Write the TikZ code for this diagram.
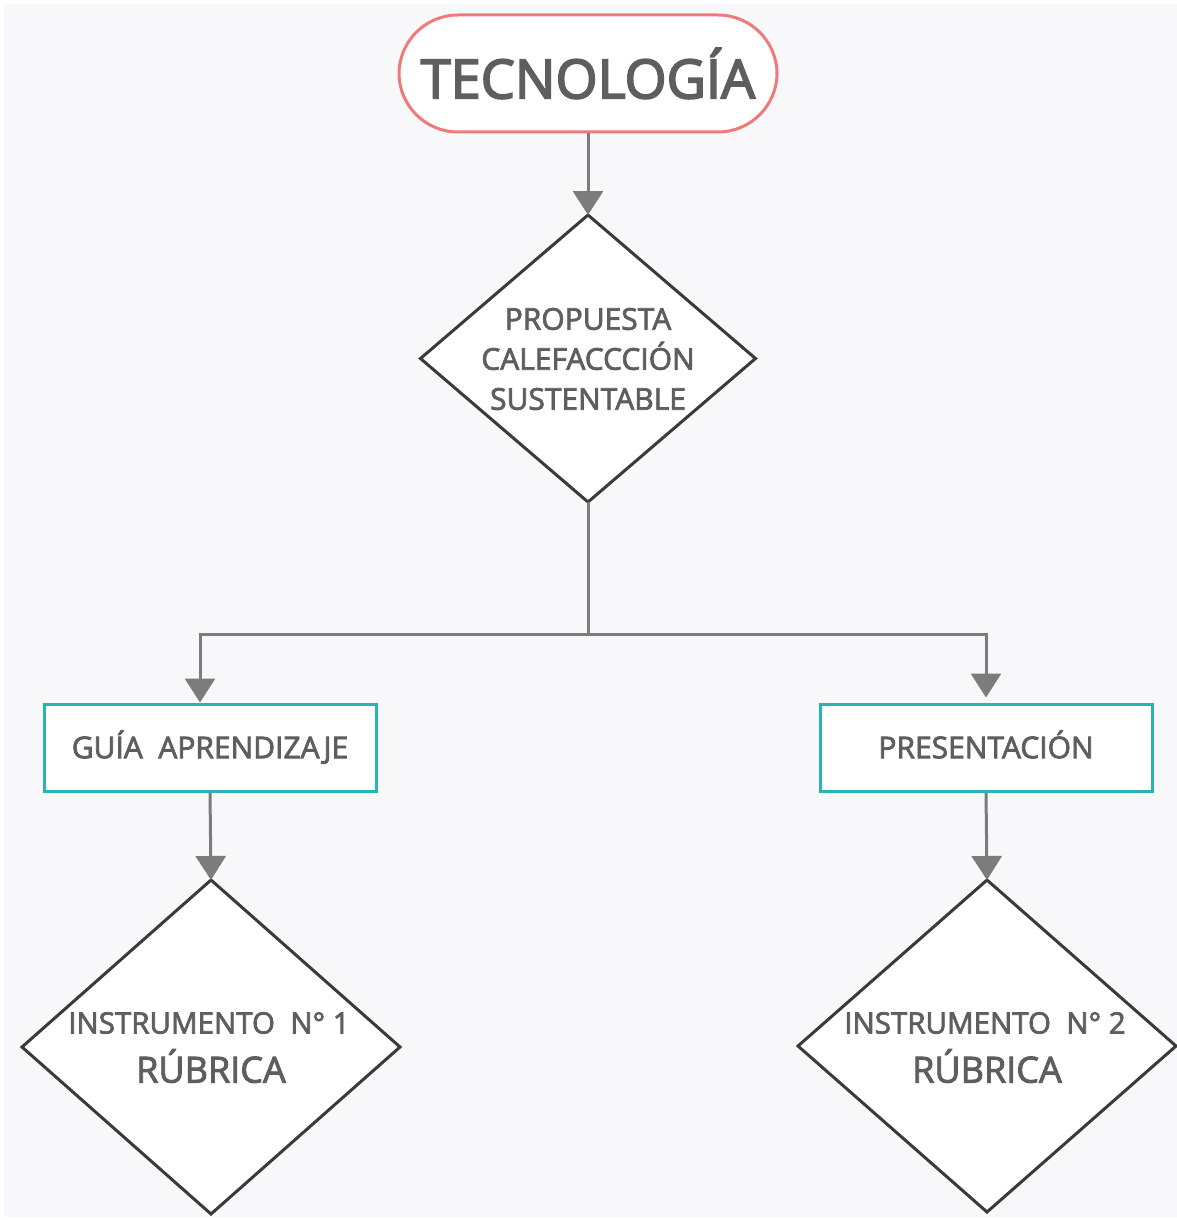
\documentclass[tikz,border=0pt]{standalone}
\usepackage{fontspec}
\setmainfont{Open Sans}
\newfontfamily\titlefont{Open Sans}[FakeBold=3.2]
\newfontfamily\boxfont{Open Sans}[FakeBold=2.5]
\usetikzlibrary{shapes.geometric,arrows.meta}
\definecolor{bgc}{HTML}{F8F8FA}
\definecolor{txt}{HTML}{5E5E5E}
\definecolor{conn}{HTML}{7C7C7C}
\definecolor{pill}{HTML}{F07A7A}
\definecolor{teal}{HTML}{2BB3B3}
\definecolor{dia}{HTML}{3A3A3A}
\tikzset{
  pillbox/.style={draw=pill,line width=3pt,fill=white,rounded corners=59pt,minimum width=378pt,minimum height=117pt,inner sep=0pt,text=txt,font=\titlefont\fontsize{54}{60}\selectfont},
  decision/.style={diamond,draw=dia,line width=3pt,fill=white,inner sep=0pt,outer sep=0pt},
  label/.style={text=txt,inner sep=0pt,align=center,font=\boxfont\fontsize{30}{40}\selectfont},
  procbox/.style={draw=teal,line width=3pt,fill=white,minimum width=332pt,minimum height=87pt,inner sep=0pt,text height=21.4pt,text depth=0pt,text=txt,font=\boxfont\fontsize{30}{34}\selectfont},
  conn/.style={draw=conn,line width=3pt,-{Triangle[width=30pt,length=24pt]}},
  plainconn/.style={draw=conn,line width=3pt},
}
\begin{document}
\begin{tikzpicture}[x=1pt,y=-1pt]
\useasboundingbox (0,0) rectangle (1177,1220);
\fill[white] (0,0) rectangle (1177,1220);
\fill[bgc] (4,4) rectangle (1177,1217);
\node[pillbox] (tec) at (588,73.5) {TECNOLOGÍA};
\node[decision,minimum width=335pt,minimum height=287pt] (prop) at (588,358.5) {};
\node[label] (proptext) at (588,359) {PROPUESTA\\CALEFACCCIÓN\\SUSTENTABLE};
\node[procbox] (guia) at (210,747.5) {GUÍA\ \ APRENDIZAJE};
\node[procbox] (pres) at (986,747.5) {PRESENTACIÓN};
\node[decision,minimum width=378pt,minimum height=334pt] (ins1) at (211,1047) {};
\node[label,font=\boxfont\fontsize{29.5}{34}\selectfont] (ins1a) at (209,1023) {INSTRUMENTO\ \ N° 1};
\node[label,font=\boxfont\fontsize{36}{40}\selectfont] (ins1b) at (211,1066) {RÚBRICA};
\node[decision,minimum width=378pt,minimum height=332pt] (ins2) at (987,1046) {};
\node[label,font=\boxfont\fontsize{29.5}{34}\selectfont] (ins2a) at (985,1023) {INSTRUMENTO\ \ N° 2};
\node[label,font=\boxfont\fontsize{36}{40}\selectfont] (ins2b) at (987,1066) {RÚBRICA};
\coordinate (split) at (588,634);
\draw[conn] (tec.south) -- (prop.north);
\draw[plainconn] (prop.south) -- (split);
\draw[conn] (split) -| (guia.north -| 200,0);
\draw[conn] (split) -| ([yshift=5pt]pres.north);
\draw[conn] (guia.south) -- (ins1.north);
\draw[conn] (pres.south) -- (ins2.north);
\end{tikzpicture}
\end{document}
